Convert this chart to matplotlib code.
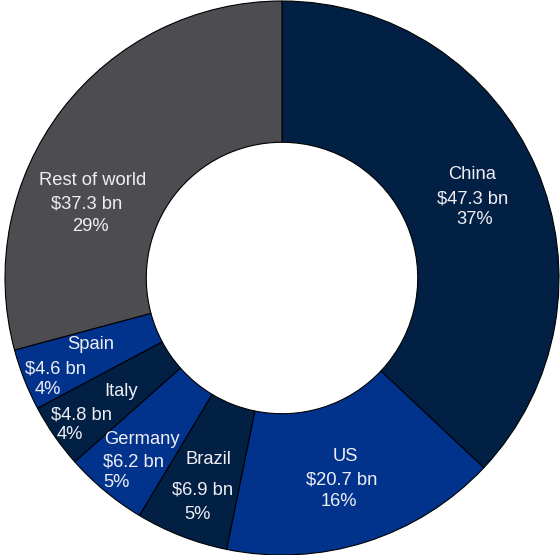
import matplotlib
matplotlib.use('Agg')
import matplotlib.pyplot as plt

countries = ['China', 'US', 'Brazil', 'Germany', 'Italy', 'Spain', 'Rest of world']
values_bn = [47.3, 20.7, 6.9, 6.2, 4.8, 4.6, 37.3]
shares = [37, 16, 5, 5, 4, 4, 29]

NAVY = '#022044'
BLUE = '#01338c'
GREY = '#4c4c51'
colors = [NAVY, BLUE, NAVY, BLUE, NAVY, BLUE, GREY]

# label line centres in pixels (x, y from top), one entry per text line
CX, CY, R = 282, 278, 277
label_px = {
    'China': [(472, 175), (473, 199), (475, 220)],
    'US': [(345, 457), (342, 480), (339, 502)],
    'Brazil': [(208, 460), (203, 490), (198, 515)],
    'Germany': [(142, 440), (134, 462), (117, 483)],
    'Italy': [(121, 392), (82, 415), (70, 435)],
    'Spain': [(91, 345), (56, 369), (48, 390)],
    'Rest of world': [(93, 181), (87, 204), (90, 227)],
}


def px_to_data(px, py):
    return (px - CX) / R, (CY - py) / R


plt.rcParams['font.family'] = ['Liberation Sans', 'DejaVu Sans']

fig = plt.figure(figsize=(5.6, 5.55), dpi=100)
ax = fig.add_axes([0, 0, 1, 1])
ax.pie(values_bn, colors=colors, startangle=90, counterclock=False, radius=1,
       wedgeprops=dict(width=0.51, edgecolor='black', linewidth=0.8))

for name, val, pct in zip(countries, values_bn, shares):
    lines = [name, f'${val} bn', f'{pct}%']
    for text, (px, py) in zip(lines, label_px[name]):
        x, y = px_to_data(px, py)
        ax.text(x, y, text, ha='center', va='center', color='#eeeef4', fontsize=13.2)

ax.set_xlim(-CX / R, (560 - CX) / R)
ax.set_ylim(-(555 - CY) / R, CY / R)
ax.set_aspect('equal')
ax.axis('off')

fig.savefig('out.png', dpi=100)
